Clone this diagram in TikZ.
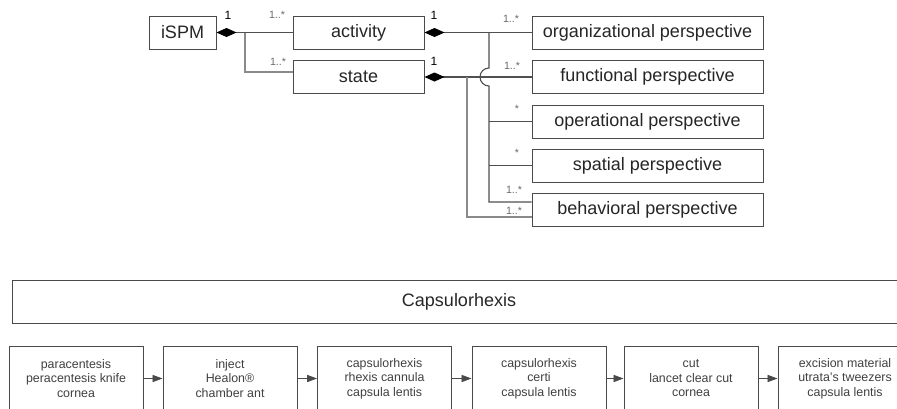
\documentclass[tikz,border=0pt]{standalone}
\usepackage{fontspec}
\setmainfont{Liberation Sans}
\usetikzlibrary{arrows.meta,calc}
\definecolor{edge}{HTML}{4A4A4A}
\definecolor{linkc}{HTML}{505050}
\definecolor{lightlink}{HTML}{8A8A8A}
\definecolor{multc}{HTML}{6A6A6A}
\definecolor{stepc}{HTML}{404040}
\begin{document}
\begin{tikzpicture}[x=0.5pt,y=-0.5pt,
  cls/.style={draw=edge,line width=0.5pt,fill=white,inner sep=0pt,
    minimum height=16.5pt,text=black!85,font=\fontsize{9}{11}\selectfont},
  persp/.style={cls,minimum width=115.5pt},
  link/.style={draw=linkc,line width=0.55pt},
  lightline/.style={draw=lightlink,line width=0.55pt},
  comp/.style={link,{Diamond[length=10pt,width=4.5pt,color=black]}-},
  one/.style={inner sep=0pt,font=\fontsize{6}{7}\selectfont,text=black},
  many/.style={inner sep=0pt,font=\fontsize{5.3}{6}\selectfont,text=multc},
  stepbox/.style={draw=edge,line width=0.5pt,fill=white,inner sep=0pt,
    minimum width=67pt,minimum height=32.5pt,align=center,text=stepc,
    font=\fontsize{6.2}{7.25}\selectfont},
  flow/.style={draw=edge,line width=0.45pt,-{Triangle[length=5pt,width=3.6pt]}}
]
\useasboundingbox (0,0) rectangle (897,408);
\clip (0,0) rectangle (897,408);

% --- class diagram ---
\node[cls,minimum width=33.5pt] (ispm) at (182.5,32.5) {iSPM};
\node[cls,minimum width=65.5pt] (activity) at (358.5,32.5) {activity};
\node[cls,minimum width=65.5pt] (state) at (358.5,77) {state};

\node[persp] (org) at (647.5,32.5) {organizational perspective};
\node[persp] (func) at (647.5,77) {functional perspective};
\node[persp] (oper) at (647.5,121.5) {operational perspective};
\node[persp] (spat) at (647.5,165.5) {spatial perspective};
\node[persp] (behav) at (647.5,209.5) {behavioral perspective};

% iSPM composed of activities and states
\draw[comp] (ispm.east) -- (activity.west);
\coordinate (j1) at (245,32.5);
\draw[lightline] (j1) |- ($(state.west)+(0,-5)$);

% activity aggregates perspectives (jumping over the state line)
\draw[comp] (activity.east) -- (org.west);
\coordinate (ja) at (489,32.5);
\draw[link] (ja) -- (489,68) arc[start angle=270,end angle=90,radius=9]
  -- (489,202) -- ($(behav.west)+(0,-7.5)$);
\draw[link] (ja |- oper.west) -- (oper.west);
\draw[link] (ja |- spat.west) -- (spat.west);

% state aggregates perspectives
\draw[comp] (state.east) -- (func.west);
\coordinate (js) at (467,77);
\draw[lightline] (js) |- ($(behav.west)+(0,7.5)$);

% multiplicities
\node[one] at (228,15) {1};
\node[many] at (277,15) {1..*};
\node[many] at (278,62) {1..*};
\node[one] at (434,15) {1};
\node[one] at (434,61) {1};
\node[many] at (511,19) {1..*};
\node[many] at (512,66) {1..*};
\node[many] at (517,109) {*};
\node[many] at (517,153) {*};
\node[many] at (514,190) {1..*};
\node[many] at (514,211) {1..*};

% --- surgical phase and its steps ---
\node[draw=edge,line width=0.5pt,inner sep=0pt,minimum width=447pt,
  minimum height=21.5pt,font=\fontsize{9}{11}\selectfont,text=black!85]
  (phase) at (459,301.5) {Capsulorhexis};

\node[stepbox] (s1) at (76,378.5) {paracentesis\\peracentesis knife\\cornea};
\node[stepbox] (s2) at (230,378.5) {inject\\Healon®\\chamber ant};
\node[stepbox] (s3) at (384.5,378.5) {capsulorhexis\\rhexis cannula\\capsula lentis};
\node[stepbox] (s4) at (539,378.5) {capsulorhexis\\certi\\capsula lentis};
\node[stepbox] (s5) at (691,378.5) {cut\\lancet clear cut\\cornea};
\node[stepbox] (s6) at (845,378.5) {excision material\\utrata's tweezers\\capsula lentis};

\draw[flow] (s1) -- (s2);
\draw[flow] (s2) -- (s3);
\draw[flow] (s3) -- (s4);
\draw[flow] (s4) -- (s5);
\draw[flow] (s5) -- (s6);
\end{tikzpicture}
\end{document}
